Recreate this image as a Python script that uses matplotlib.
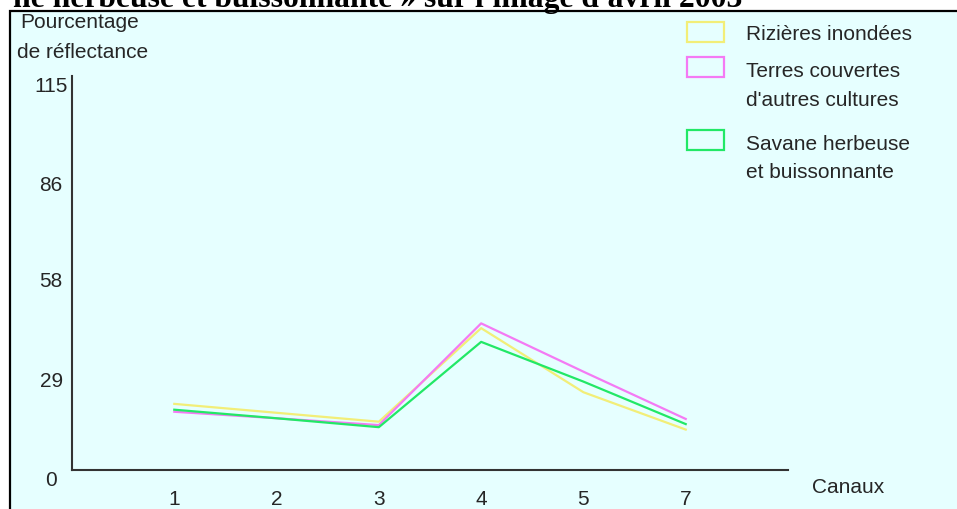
import matplotlib
matplotlib.use("Agg")
import matplotlib.pyplot as plt
from matplotlib.patches import Rectangle

# data
canaux = ["1", "2", "3", "4", "5", "7"]
rizieres = [19.3, 16.7, 14.1, 41.4, 22.7, 11.8]
terres = [17.0, 15.1, 13.1, 42.8, 28.7, 14.9]
savane = [17.6, 15.1, 12.5, 37.4, 25.8, 13.4]
yticks = [0, 29, 58, 86, 115]

series_names = ["Rizières inondées", "Terres couvertes\nd'autres cultures",
                "Savane herbeuse\net buissonnante"]
series_colors = ["#F2EE78", "#F47AF4", "#22E866"]

W, H = 957, 510
BG = "#E6FFFF"
TXT = "#262626"
FONT = "Liberation Sans"


def fx(px):
    return px / W


def fy(py):
    return 1 - py / H


fig = plt.figure(figsize=(W / 100, H / 100), dpi=100)
fig.patch.set_facecolor("white")

# cyan panel with black frame (left/top visible only)
fig.patches.append(Rectangle((fx(10), fy(H + 20)), 1.1, fy(12) - fy(H + 20),
                             transform=fig.transFigure, facecolor=BG,
                             edgecolor="black", linewidth=1.6, zorder=-5))

# cut-off title at the top
fig.text(fx(742), fy(7), "ne herbeuse et buissonnante » sur l'image d'avril 2003",
         ha="right", va="baseline", fontsize=22.8, fontweight="bold",
         family="Liberation Serif", color="black")

ax = fig.add_axes([fx(72), fy(471), fx(788) - fx(72), fy(77) - fy(471)])
ax.set_facecolor("none")
ax.set_zorder(2)

xpos = list(range(1, len(canaux) + 1))
for vals, col in zip([rizieres, terres, savane], series_colors):
    ax.plot(xpos, vals, color=col, linewidth=1.6)

ax.set_xlim(0, 7)
ax.set_ylim(0, 115)
ax.set_xticks(xpos)
ax.set_xticklabels(canaux)
ax.set_yticks(yticks)
ax.set_yticklabels([str(v) for v in yticks])

for s in ["top", "right"]:
    ax.spines[s].set_visible(False)
for s in ["left", "bottom"]:
    ax.spines[s].set_color("#333333")
    ax.spines[s].set_linewidth(1.5)

ax.tick_params(axis="both", length=0, labelsize=15, labelcolor=TXT)
ax.tick_params(axis="x", pad=14)
ax.tick_params(axis="y", pad=15)
for lab in ax.get_yticklabels():
    lab.set_ha("center")
    lab.set_va("top")
    lab.set_family(FONT)
for lab in ax.get_xticklabels():
    lab.set_family(FONT)

# axis titles
fig.text(fx(20), fy(23), "Pourcentage", ha="left", va="center",
         fontsize=15, family=FONT, color=TXT)
fig.text(fx(17), fy(52), "de réflectance", ha="left", va="center",
         fontsize=15, family=FONT, color=TXT)
fig.text(fx(812), fy(488), "Canaux", ha="left", va="center",
         fontsize=15, family=FONT, color=TXT)

# legend: open boxes with text
box_tops = [23, 58, 131]
text_rows = [[35], [72, 100], [145, 172]]
for top, rows, name, col in zip(box_tops, text_rows, series_names, series_colors):
    fig.patches.append(Rectangle((fx(687), fy(top + 20)), fx(724) - fx(687),
                                 fy(top) - fy(top + 20), transform=fig.transFigure,
                                 facecolor="none", edgecolor=col, linewidth=1.6))
    for y, line in zip(rows, name.split("\n")):
        fig.text(fx(746), fy(y), line, ha="left", va="center",
                 fontsize=15, family=FONT, color=TXT)

fig.savefig("out.png", dpi=100, facecolor=fig.get_facecolor())
